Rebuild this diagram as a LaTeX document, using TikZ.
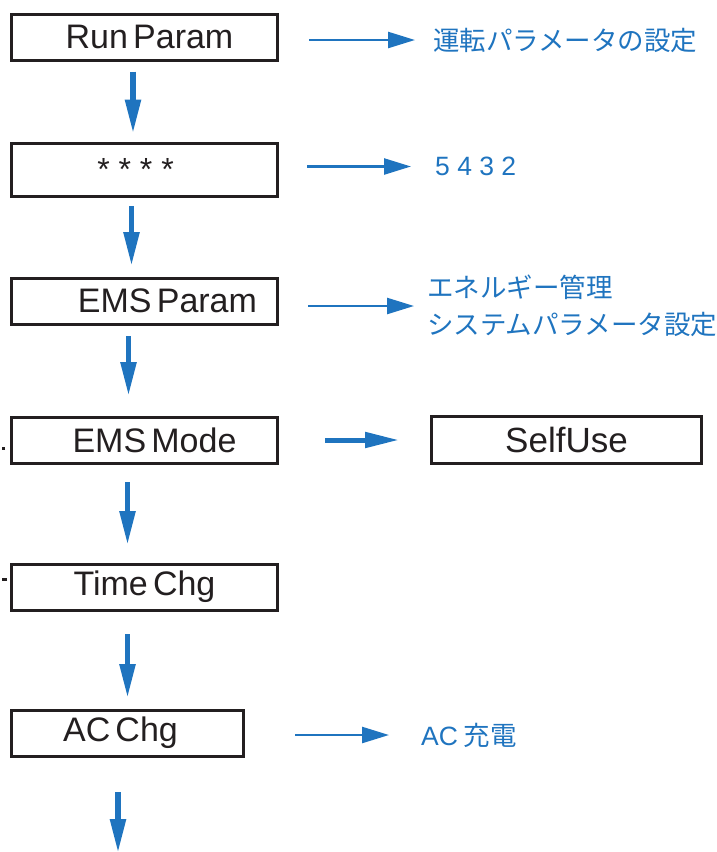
\documentclass[tikz,border=0pt]{standalone}
\usepackage{fontspec}
\setmainfont{Liberation Sans}
\newfontfamily\boxfont[WordSpace=0.55]{Liberation Sans}
\newfontfamily\jpfont{Noto Sans CJK JP}
\usetikzlibrary{arrows.meta,positioning}
\definecolor{ink}{HTML}{231F20}
\definecolor{flowblue}{HTML}{1F74BF}
\tikzset{
  box/.style={draw=ink,line width=3pt,minimum width=266pt,minimum height=46pt,inner sep=0pt,
    font=\boxfont\fontsize{34}{40}\selectfont,text=ink},
  note/.style={font=\jpfont\fontsize{26.5}{37}\selectfont,text=flowblue,inner sep=0pt,align=left},
  down/.style={-{Triangle[length=34pt,width=15pt]},line width=5.5pt,draw=flowblue},
  flow/.style={-{Triangle[length=27pt,width=16pt]},line width=2.5pt,draw=flowblue},
  bflow/.style={-{Triangle[length=34pt,width=15pt]},line width=5pt,draw=flowblue},
  stub/.style={draw=ink,line width=2.5pt}
}
\begin{document}
\begin{tikzpicture}
  \useasboundingbox (0,0) rectangle (717pt,-852pt);
  % left column
  \node[box] (run) at (144.5pt,-37pt) {\hspace*{10pt}Run Param};
  \node[box, minimum height=53pt, below=80pt of run] (pwd) {\fontsize{32}{36}\rmfamily * * * *\hspace*{18pt}};
  \node[box, below=79pt of pwd] (emsp) {\hspace*{46pt}EMS Param};
  \node[box, below=90pt of emsp] (mode) {\hspace*{20pt}EMS Mode};
  \node[box, below=98pt of mode] (timechg) {Time Chg};
  \node[box, minimum width=232pt, below=97pt of timechg.south west, anchor=north west] (acchg) {AC Chg\hspace*{14pt}};
  \coordinate (acnext) at ([xshift=-9.5pt,yshift=-95.5pt]acchg.south);
  % right column
  \node[note, right=154pt of run, yshift=-3pt] (runnote) {運転パラメータの設定};
  \node[note, right=156pt of pwd, yshift=3pt] (pwdnote) {\rmfamily 5 4 3 2};
  \node[note, right=148pt of emsp, yshift=-5pt] (emspnote) {エネルギー管理\\システムパラメータ設定};
  \node[box, minimum width=270pt, minimum height=47pt, right=151pt of mode, font=\rmfamily\fontsize{35}{40}\selectfont] (self) {SelfUse};
  \node[note, right=176pt of acchg, yshift=-2pt] (acnote) {{\rmfamily AC} 充電};
  % down arrows
  \draw[down] ([xshift=-11.5pt,yshift=-10pt]run.south) -- ([xshift=-11.5pt,yshift=8pt]pwd.north);
  \draw[down] ([xshift=-13pt,yshift=-8.5pt]pwd.south) -- ([xshift=-13pt,yshift=10.5pt]emsp.north);
  \draw[down] ([xshift=-16pt,yshift=-10.5pt]emsp.south) -- ([xshift=-16pt,yshift=19.5pt]mode.north);
  \draw[down] ([xshift=-17pt,yshift=-17.5pt]mode.south) -- ([xshift=-17pt,yshift=17.5pt]timechg.north);
  \draw[down] ([xshift=-17pt,yshift=-22.5pt]timechg.south) -- ([xshift=-17pt,yshift=10.5pt]timechg.south |- acchg.north);
  \draw[down] (acnext |- 0,-792pt) -- (acnext);
  % side arrows
  \draw[flow] ([xshift=30pt]run.east |- runnote.west) -- ([xshift=-18pt]runnote.west);
  \draw[flow] ([xshift=28pt]pwd.east |- pwdnote.west) -- ([xshift=-24pt]pwdnote.west);
  \draw[flow] ([xshift=29pt]emsp.east |- emspnote.west) -- ([xshift=-13pt]emspnote.west);
  \draw[bflow, shorten <=46pt, shorten >=31pt] (mode.east) -- (self.west);
  \draw[flow, shorten <=50pt, shorten >=32pt] (acchg.east |- acnote.west) -- (acnote.west);
  % cut-off marks at the left edge
  \draw[stub] ([xshift=-5pt,yshift=-8.5pt]mode.west) -- ++(-3pt,0);
  \draw[stub] ([xshift=-3pt,yshift=7.5pt]timechg.west) -- ++(-5pt,0);
\end{tikzpicture}
\end{document}
